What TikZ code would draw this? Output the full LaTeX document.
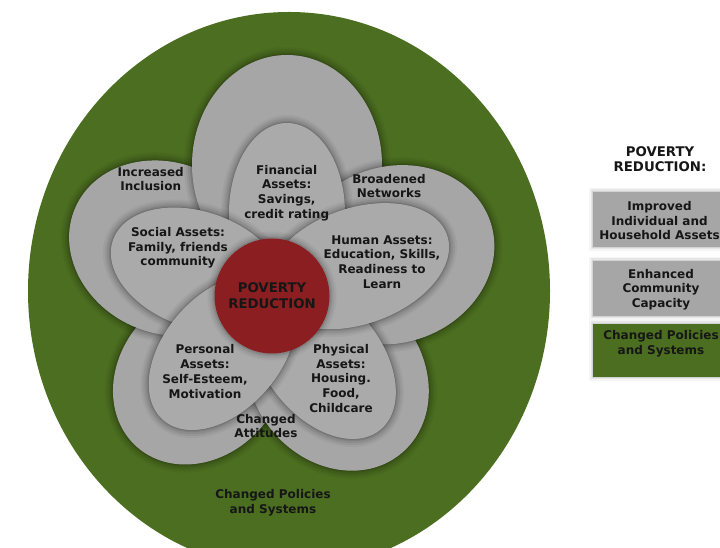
\documentclass[tikz,border=0pt]{standalone}
\usepackage{fontspec}
\setmainfont{DejaVu Sans}
\usetikzlibrary{calc}
\definecolor{bggreen}{RGB}{75,110,32}
\definecolor{petalout}{RGB}{166,166,166}
\definecolor{petalin}{RGB}{170,170,170}
\definecolor{redcore}{RGB}{139,30,32}
\definecolor{txt}{RGB}{22,22,22}
\tikzset{
  lbl/.style={font=\bfseries\fontsize{12}{14.7}\selectfont, text=txt, align=center, inner sep=0pt},
  bigl/.style={font=\bfseries\fontsize{13.3}{16.3}\selectfont, text=txt, align=center, inner sep=0pt},
}
% #1,#2 centre in image coords, #3 angle, #4 #5 radii, #6 colour
\newcommand\glowellipse[6]{%
  \begin{scope}[shift={(#1,548-#2)}, rotate=#3]
    \foreach \lw/\op in {16/0.04,12/0.05,8/0.07,4/0.09,1.5/0.12}{%
      \draw[line width=\lw pt, black, opacity=\op] (0,0) ellipse [x radius=#4, y radius=#5];}
    \fill[#6] (0,0) ellipse [x radius=#4, y radius=#5];
  \end{scope}}
\newcommand\glowrect[5]{%
  \foreach \lw/\op in {8/0.04,5/0.06,2.5/0.08}{%
    \draw[line width=\lw pt, black, opacity=\op] (#1,548-#2) rectangle (#3,548-#4);}
  \fill[#5] (#1,548-#2) rectangle (#3,548-#4);}
\begin{document}
\begin{tikzpicture}[x=1pt,y=1pt]
\useasboundingbox (0,0) rectangle (720,548);
\fill[white] (0,0) rectangle (720,548);
% background policies circle
\fill[bggreen] (289,257) ellipse [x radius=261, y radius=279];
% outer petals (community capacity)
\glowellipse{200}{375.9}{228}{95}{80}{petalout}
\glowellipse{337.5}{376.4}{-50.8}{100}{85}{petalout}
\glowellipse{166.7}{248.2}{155.6}{100}{85}{petalout}
\glowellipse{287}{165}{90}{110}{95}{petalout}
\glowellipse{392.8}{254.8}{18.8}{103}{88}{petalout}
% inner petals (assets)
\glowellipse{287}{213}{90}{90}{58}{petalin}
\glowellipse{323.5}{360}{-51.1}{90}{58}{petalin}
\glowellipse{357.3}{266.2}{19.2}{95}{58}{petalin}
\glowellipse{197.9}{269.9}{160.6}{90}{58}{petalin}
\glowellipse{222.4}{352.3}{228.7}{90}{58}{petalin}
% core
\foreach \lw/\op in {14/0.04,10/0.05,6/0.07,3/0.09}{%
  \draw[line width=\lw pt, black, opacity=\op] (272,252) circle [radius=57.5];}
\node[circle, fill=redcore, minimum size=115pt, inner sep=0pt] (core) at (272,252) {};
\node[bigl] (coretxt) at (272,252) {POVERTY\\REDUCTION};
% labels
\node[lbl] (incl) at (150.7,369) {Increased\\Inclusion};
\node[lbl] (netw) at (389,362) {Broadened\\Networks};
\node[lbl] (fin) at (286.7,355) {Financial\\Assets:\\Savings,\\credit rating};
\node[lbl] (soc) at (178,300) {Social Assets:\\Family, friends\\community};
\node[lbl] (hum) at (382,286) {Human Assets:\\Education, Skills,\\Readiness to\\Learn};
\node[lbl] (pers) at (205,176.5) {Personal\\Assets:\\Self-Esteem,\\Motivation};
\node[lbl] (phys) at (341,169.5) {Physical\\Assets:\\Housing.\\Food,\\Childcare};
\node[lbl] (att) at (266,122) {Changed\\Attitudes};
\node[lbl] (pol) at (273,45.5) {Changed Policies\\and Systems};
% legend
\node[bigl, font=\bfseries\fontsize{13.3}{14.5}\selectfont] (legtitle) at (660,389) {POVERTY\\REDUCTION:};
\glowrect{593}{192}{745}{247}{petalout}
\glowrect{593}{261}{745}{316}{petalout}
\glowrect{593}{324}{745}{377}{bggreen}
\node[lbl] (leg1) at (659.5,327.3) {Improved\\Individual and\\Household Assets};
\node[lbl] (leg2) at (661,258.5) {Enhanced\\Community\\Capacity};
\node[lbl] (leg3) at (661,204.3) {Changed Policies\\and Systems};
\end{tikzpicture}
\end{document}
